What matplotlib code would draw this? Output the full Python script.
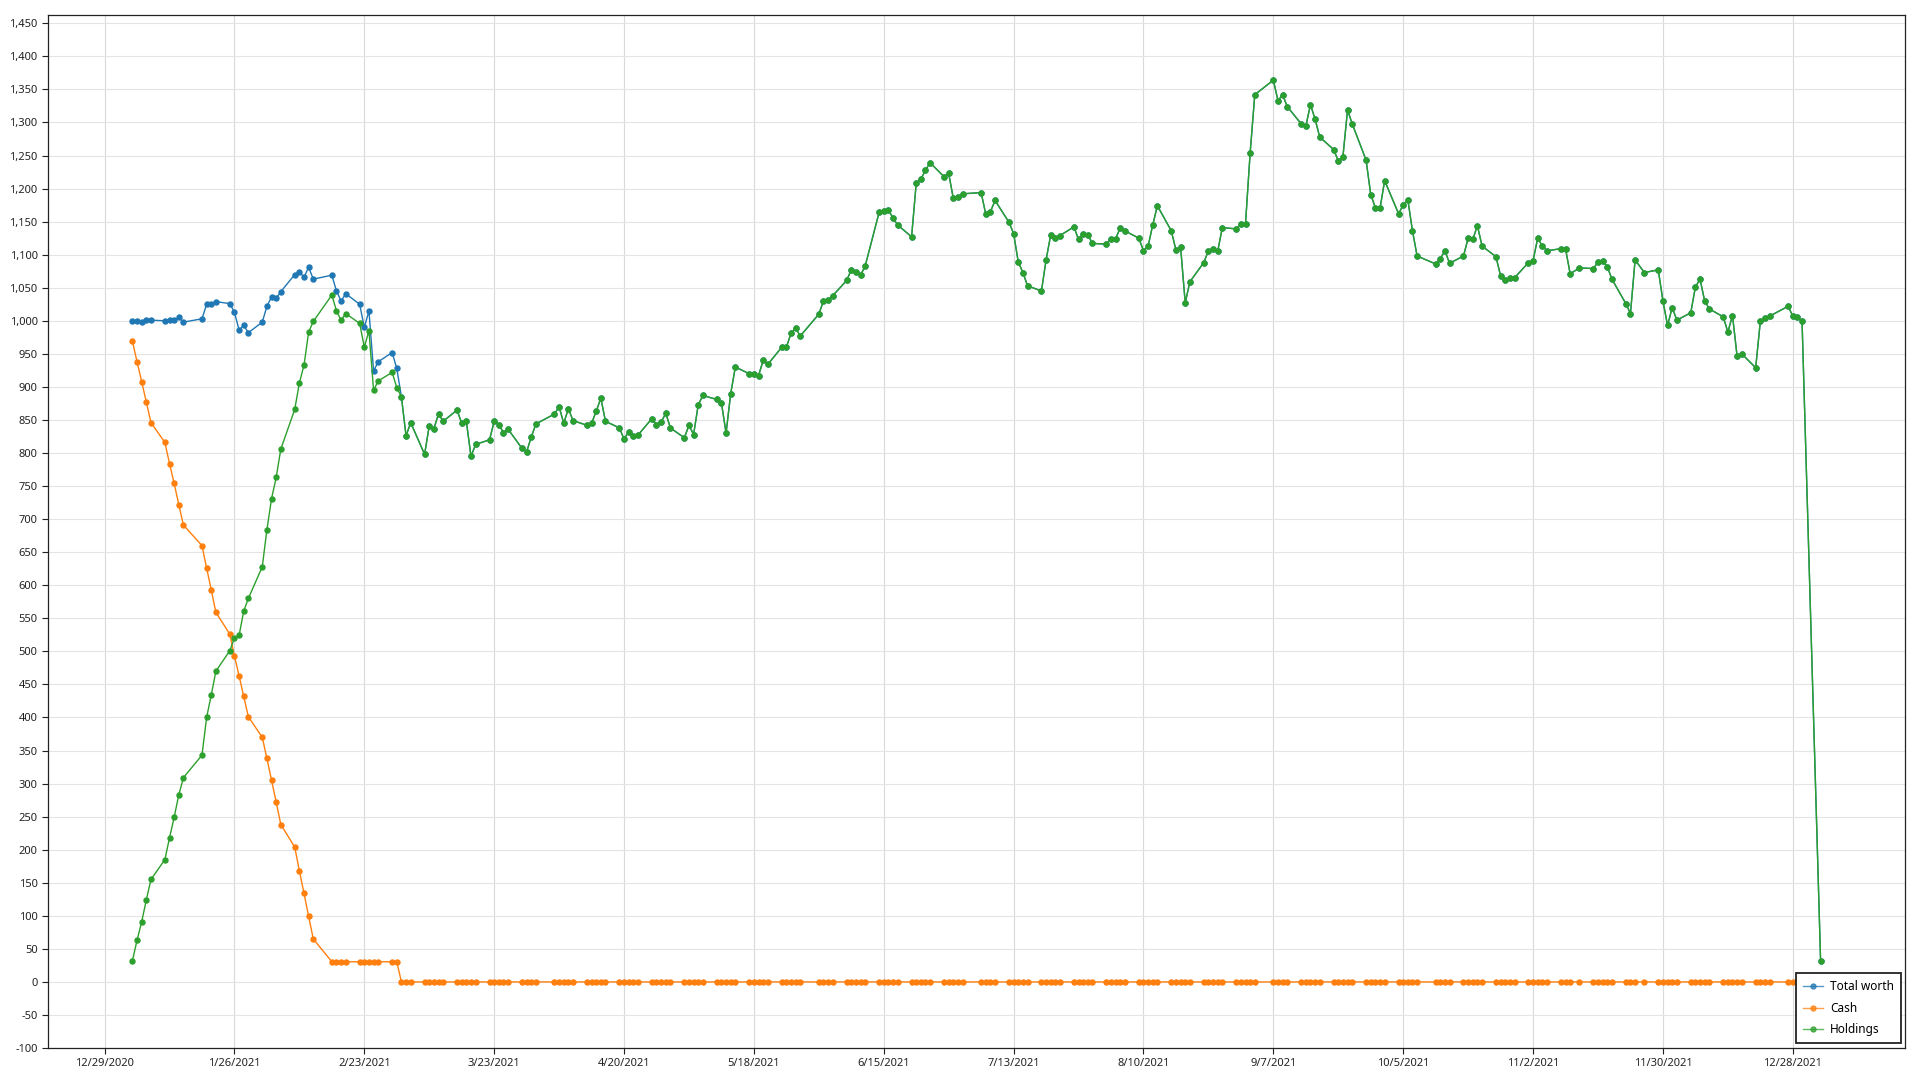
import matplotlib
matplotlib.use("Agg")
import matplotlib.pyplot as plt
from matplotlib.ticker import FuncFormatter, MultipleLocator
import pandas as pd

# trading days missing from the series (holidays / gaps in the source data)
skipped_days = ["2021-01-18", "2021-02-15", "2021-04-02", "2021-05-31", "2021-07-05",
                "2021-09-06", "2021-10-11", "2021-11-11", "2021-11-25", "2021-12-24",
                "2021-12-31"]
first_day = "2021-01-04"
last_day = "2022-01-03"

# total worth until cash runs out (3/3); after that it equals holdings
total_worth_start = [
    1000, 1000, 998, 1001, 1001, 1000, 1001, 1001, 1005, 998,
    1003, 1025, 1026, 1029, 1026, 1013, 986, 993, 982,
    998, 1022, 1036, 1034, 1044, 1070, 1074, 1066, 1081, 1063,
    1069, 1045, 1030, 1041, 1025, 990, 1015, 924, 938,
    952, 928, 885,
]

cash = [
    969, 938, 908, 877, 846, 816, 784, 754, 722, 691,
    660, 626, 593, 559, 526, 493, 463, 432, 401,
    370, 338, 305, 272, 238, 204, 168, 134, 99, 65,
    30.5, 30.5, 30.5, 30.5, 30.5, 30.5, 30.5, 30.5, 30.5,
    30.5, 30.5,
    0, 0, 0, 0, 0, 0, 0, 0, 0, 0, 0, 0, 0, 0, 0, 0, 0, 0, 0, 0, 0,
    0, 0, 0, 0, 0, 0, 0, 0, 0, 0, 0, 0, 0, 0, 0, 0, 0, 0, 0, 0, 0,
    0, 0, 0, 0, 0, 0, 0, 0, 0, 0, 0, 0, 0, 0, 0, 0, 0, 0, 0, 0,
    0, 0, 0, 0, 0, 0, 0, 0, 0, 0, 0, 0, 0, 0, 0, 0, 0, 0, 0, 0, 0, 0,
    0, 0, 0, 0, 0, 0, 0, 0, 0, 0, 0, 0, 0, 0, 0, 0, 0, 0, 0, 0, 0,
    0, 0, 0, 0, 0, 0, 0, 0, 0, 0, 0, 0, 0, 0, 0, 0, 0, 0, 0, 0, 0, 0,
    0, 0, 0, 0, 0, 0, 0, 0, 0, 0, 0, 0, 0, 0, 0, 0, 0, 0, 0, 0, 0,
    0, 0, 0, 0, 0, 0, 0, 0, 0, 0, 0, 0, 0, 0, 0, 0, 0, 0, 0, 0,
    0, 0, 0, 0, 0, 0, 0, 0, 0, 0, 0, 0, 0, 0, 0, 0, 0, 0, 0, 0,
    0, 0, 0, 0, 0, 0, 0, 0, 0, 0, 0, 0, 0, 0, 0, 0, 0, 0, 0, 0, 0,
    0,
]

holdings = [
    # jan
    32, 63, 91, 124, 155, 185, 218, 249, 283, 309,
    343, 400, 434, 470, 501, 520, 524, 561, 580,
    # feb
    628, 684, 731, 763, 806, 866, 906, 933, 983, 999,
    1039, 1015, 1001, 1011, 996, 960, 985, 895, 909,
    # mar
    922, 899, 885, 826, 846, 798, 841, 837, 859, 848,
    865, 845, 848, 795, 813, 820, 848, 843, 831, 836,
    807, 802, 824,
    # apr
    844, 859, 870, 845, 867, 849, 842, 845, 863, 883, 848,
    838, 821, 832, 826, 827, 852, 843, 847, 860, 838,
    # may
    823, 842, 828, 873, 887, 881, 876, 830, 890, 930,
    920, 919, 917, 940, 934, 960, 960, 981, 989, 977,
    # jun
    1010, 1030, 1031, 1038, 1061, 1077, 1074, 1069, 1083,
    1164, 1166, 1168, 1155, 1145, 1127, 1208, 1214, 1228, 1239,
    1218, 1223, 1185,
    # jul
    1187, 1192, 1194, 1161, 1165, 1182, 1149, 1132, 1089, 1073, 1053,
    1045, 1092, 1130, 1125, 1129, 1142, 1123, 1132, 1130, 1117,
    # aug
    1116, 1124, 1124, 1141, 1136, 1125, 1106, 1113, 1145, 1174,
    1136, 1107, 1112, 1027, 1059, 1088, 1106, 1109, 1105, 1141,
    1139, 1146,
    # sep
    1147, 1254, 1342, 1364, 1333, 1342, 1324, 1298, 1294, 1327, 1305,
    1278, 1259, 1242, 1248, 1319, 1298, 1243, 1191, 1171, 1170,
    # oct
    1212, 1162, 1175, 1183, 1136, 1098, 1086, 1094, 1106, 1087,
    1098, 1125, 1123, 1144, 1113, 1097, 1068, 1062, 1065, 1065,
    # nov
    1088, 1091, 1125, 1113, 1106, 1109, 1109, 1071, 1080,
    1079, 1089, 1090, 1082, 1063, 1026, 1011, 1092, 1073, 1077, 1030,
    # dec
    993, 1020, 1001, 1012, 1051, 1063, 1030, 1018, 1006, 983,
    1008, 946, 950, 929, 999, 1004, 1007, 1022, 1007, 1005, 999,
    # jan 2022
    31,
]

tick_start = "2020-12-29"
tick_count = 14

dates = [d for d in pd.bdate_range(first_day, last_day)
         if d.strftime("%Y-%m-%d") not in skipped_days]
# cash is zero from 3/3 onward, so total worth is the holdings value
total_worth = total_worth_start + holdings[len(total_worth_start):]

plt.rcParams["font.family"] = ["Noto Sans", "DejaVu Sans"]

fig = plt.figure(figsize=(19.2, 10.8), dpi=100)
ax = fig.add_axes([0.025, 0.0296, 0.9672, 0.9568])

style = dict(marker="o", markersize=3.6, linewidth=1.0)
ax.plot(dates, total_worth, color="#1f77b4", label="Total worth", **style)
ax.plot(dates, cash, color="#ff7f0e", label="Cash", **style)
ax.plot(dates, holdings, color="#2ca02c", label="Holdings", **style)

pad = (dates[-1] - dates[0]) * 0.05
ax.set_xlim(dates[0] - pad, dates[-1] + pad)
ax.set_ylim(-100, 1463)

ticks = pd.date_range(tick_start, periods=tick_count, freq="28D")
ax.set_xticks(ticks)
ax.set_xticklabels([f"{d.month}/{d.day}/{d.year}" for d in ticks])
ax.yaxis.set_major_locator(MultipleLocator(50))
ax.yaxis.set_major_formatter(FuncFormatter(lambda v, p: f"{v:,.0f}"))

ax.xaxis.grid(True, color="#d9d9d9", linewidth=0.8)
ax.yaxis.grid(True, color="#e4e4e4", linewidth=0.8)
ax.set_axisbelow(True)

ax.tick_params(labelsize=8, colors="#222222", length=4, width=0.8)
for s in ax.spines.values():
    s.set_color("#222222")
    s.set_linewidth(0.9)

leg = ax.legend(loc="lower right", bbox_to_anchor=(0.9978, 0.0048), borderaxespad=0,
                fontsize=8.5, handlelength=1.7, handletextpad=0.6, fancybox=False,
                framealpha=1, edgecolor="#222222", borderpad=0.6, labelspacing=0.7)
leg.get_frame().set_linewidth(1.3)
for h in leg.get_lines():
    h.set_alpha(0.75)

fig.savefig("out.png", dpi=100)
